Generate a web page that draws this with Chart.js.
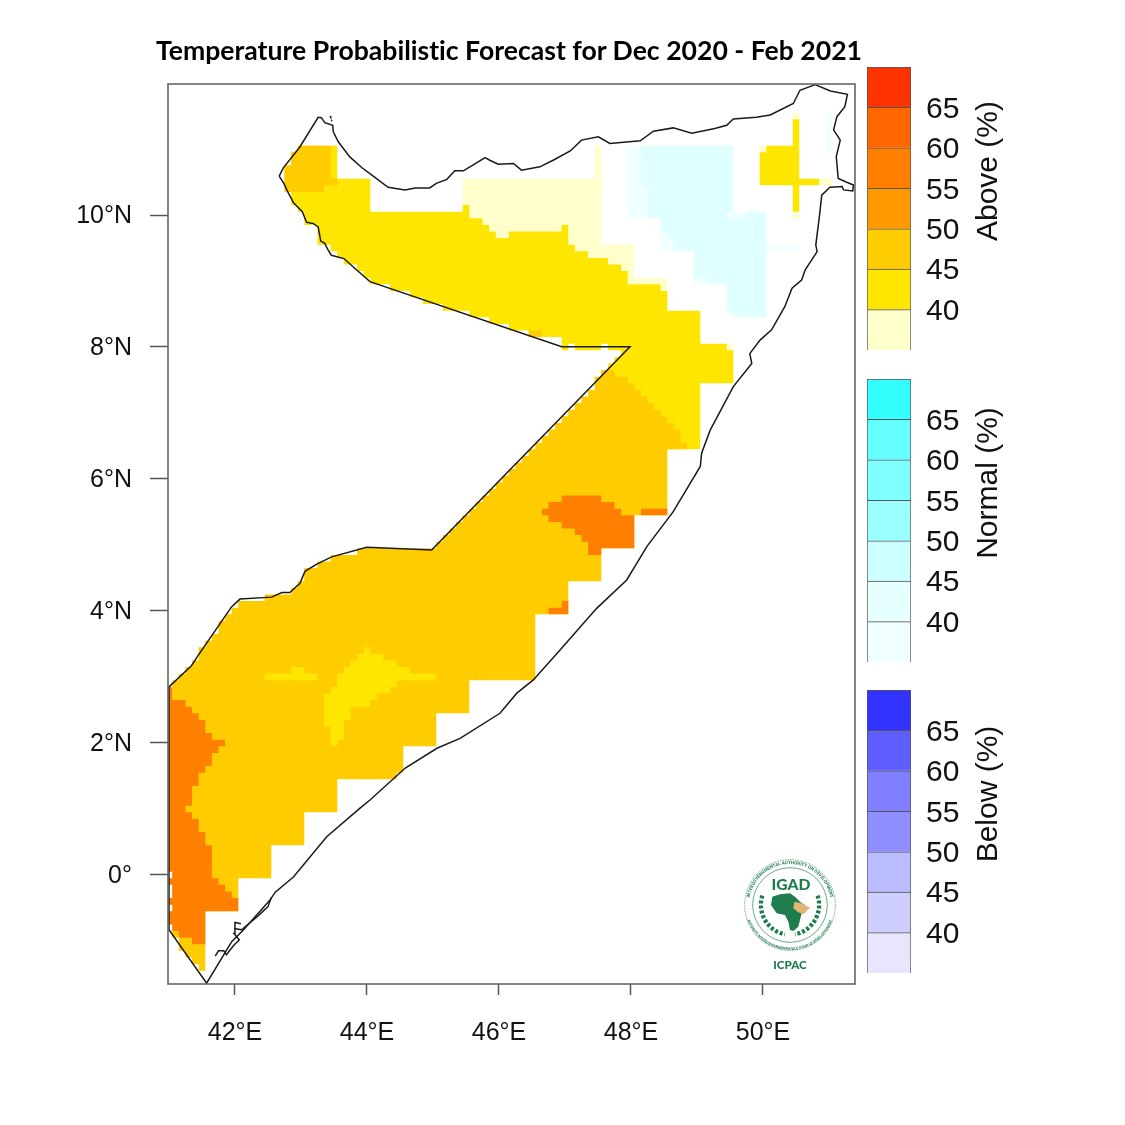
<!DOCTYPE html>
<html>
<head>
<meta charset="utf-8">
<script src="https://cdn.jsdelivr.net/npm/chart.js@4"></script>
<style>
  body { margin: 0; background: #fff; width: 1125px; height: 1125px; position: relative; overflow: hidden; }
  canvas { position: absolute; }
  #title { position: absolute; left: 155px; top: 34px; width: 708px; text-align: center; white-space: nowrap;
           font: 700 26.6px Lato, "Open Sans", sans-serif; font-variant-ligatures: none; color: #000; }
  #logo { position: absolute; left: 735px; top: 855px; }
</style>
</head>
<body>
<canvas id="map" width="1125" height="1125" style="left:0;top:0"></canvas>
<canvas id="barAbove" width="258" height="287" style="left:867px;top:65px"></canvas>
<canvas id="barNormal" width="258" height="287" style="left:867px;top:377px"></canvas>
<canvas id="barBelow" width="258" height="287" style="left:867px;top:688px"></canvas>
<div id="title">Temperature Probabilistic Forecast for Dec 2020 - Feb 2021</div>

<svg id="logo" width="110" height="125" viewBox="0 0 330 375">
  <defs>
    <path id="ringTop" d="M 42 150 A 123 123 0 0 1 288 150"/>
    <path id="ringBot" d="M 30 150 A 135 135 0 0 0 300 150"/>
  </defs>
  <circle cx="165" cy="150" r="136" fill="#fff" stroke="#1f7d4d" stroke-width="3" stroke-dasharray="2 3"/>
  <circle cx="165" cy="150" r="112" fill="#fff" stroke="#1f7d4d" stroke-width="2"/>
  <text font-family="Roboto" font-weight="700" font-size="13.5" fill="#1f7d4d"><textPath href="#ringTop" startOffset="50%" text-anchor="middle">INTERGOVERNMENTAL AUTHORITY ON DEVELOPMENT</textPath></text>
  <text font-family="Roboto" font-weight="700" font-size="11" fill="#1f7d4d"><textPath href="#ringBot" startOffset="50%" text-anchor="middle">AUTORITÉ INTERGOUVERNEMENTALE POUR LE DÉVELOPPEMENT</textPath></text>
  <text x="168" y="106" text-anchor="middle" font-family="Lato" font-weight="900" font-size="47" fill="#1f7d4d">IGAD</text>
  <path d="M 82 122 A 90 90 0 0 0 150 238" fill="none" stroke="#1f7d4d" stroke-width="13" stroke-dasharray="9 6"/>
  <path d="M 248 122 A 90 90 0 0 1 180 238" fill="none" stroke="#1f7d4d" stroke-width="13" stroke-dasharray="9 6"/>
  <polygon fill="#1f7d4d" points="112,125 135,118 165,115 180,125 195,140 210,150 200,175 195,195 190,215 175,228 165,225 160,200 150,180 125,175 108,150"/>
  <polygon fill="#e3b673" points="178,140 200,145 225,158 205,178 190,172 175,160"/>
  <text x="165" y="342" text-anchor="middle" font-family="Lato" font-weight="900" font-size="35" fill="#1f7d4d">ICPAC</text>
</svg>

<script>
// axis ticks
const lonTicks = [42, 44, 46, 48, 50]
const latTicks = [0, 2, 4, 6, 8, 10]
const barTicks = [40, 45, 50, 55, 60, 65]
const barEdges = [35, 40, 45, 50, 55, 60, 65, 70]

// colour bars, bottom to top
const aboveColors = ['#FFFFCC', '#FFE600', '#FFCC00', '#FF9900', '#FF8000', '#FF6600', '#FF3300']
const normalColors = ['#F0FFFF', '#E6FFFF', '#CCFFFF', '#99FFFF', '#80FFFF', '#66FFFF', '#33FFFF']
const belowColors = ['#E8E6FF', '#CFCFFF', '#BBBBFF', '#8F8FFF', '#7F7FFF', '#5F5FFF', '#3333FF']

// forecast areas, [lon, lat]
const normalLight = [[47.95,11.05],[49.55,11.05],[49.55,10.05],[50.05,10.05],[50.05,9.55],[50.55,9.55],[50.55,9.45],[50.05,9.45],[50.05,8.45],[49.45,8.45],[49.45,8.95],[48.95,8.95],[48.95,9.45],[48.45,9.45],[48.45,9.95],[47.95,9.95]]
const normalLightEast = [[50.95,11.55],[51.05,11.55],[51.05,10.95],[50.95,10.95]]
const normalDark = [[48.15,11.05],[49.55,11.05],[49.55,10.05],[49.45,10.05],[49.45,9.95],[49.75,9.95],[49.75,10.05],[50.05,10.05],[50.05,8.45],[49.55,8.45],[49.55,8.55],[49.45,8.55],[49.45,8.95],[49.15,8.95],[49.15,9.05],[48.95,9.05],[48.95,9.45],[48.65,9.45],[48.65,9.65],[48.55,9.65],[48.55,9.75],[48.45,9.75],[48.45,9.95],[48.25,9.95],[48.25,10.45],[48.15,10.45]]
const abovePale = [[45.45,10.55],[47.45,10.55],[47.45,11.05],[47.55,11.05],[47.55,9.55],[48.05,9.55],[48.05,9.05],[48.55,9.05],[48.55,8.85],[47.5,8.85],[46,9.5],[45.45,10.05]]
const palePatchA = [[49.45,8.05],[49.55,8.05],[49.55,7.95],[49.45,7.95]]
const palePatchB = [[50.45,11.55],[50.55,11.55],[50.55,11.45],[50.45,11.45]]
const palePatchC = [[50.45,10.05],[50.55,10.05],[50.55,9.95],[50.45,9.95]]
const palePatchD = [[50.85,10.55],[51.05,10.55],[51.05,10.45],[50.85,10.45]]
const palePatchE = [[49.95,11.05],[50.05,11.05],[50.05,10.95],[49.95,10.95]]
const yellowMain = [[42.95,11.05],[43.55,11.05],[43.55,10.55],[44.05,10.55],[44.05,10.05],[45.45,10.05],[45.45,10.15],[45.55,10.15],[45.55,9.95],[45.75,9.95],[45.75,9.85],[45.85,9.85],[45.85,9.75],[45.95,9.75],[45.95,9.65],[46.15,9.65],[46.15,9.75],[46.95,9.75],[46.95,9.85],[47.05,9.85],[47.05,9.55],[47.15,9.55],[47.15,9.45],[47.35,9.45],[47.35,9.35],[47.65,9.35],[47.65,9.25],[47.85,9.25],[47.85,9.15],[47.95,9.15],[47.95,8.95],[48.45,8.95],[48.45,8.85],[48.55,8.85],[48.55,8.55],[49.05,8.55],[49.05,8.05],[49.45,8.05],[49.45,7.95],[49.55,7.95],[49.55,7.45],[49.05,7.45],[49.05,6.45],[47.55,6.45],[47.55,7.65],[47.65,7.65],[47.65,7.75],[47.75,7.75],[47.75,7.85],[47.85,7.85],[47.85,7.95],[47.65,7.95],[47.65,8.05],[47.55,8.05],[47.55,7.95],[47.15,7.95],[47.15,8.05],[47.05,8.05],[47.05,7.95],[46.95,7.95],[46.95,8.15],[46.45,8.15],[46.45,8.25],[46.15,8.25],[46.15,8.35],[45.85,8.35],[45.85,8.45],[45.55,8.45],[45.55,8.55],[45.15,8.55],[45.15,8.65],[44.85,8.65],[44.85,8.75],[44.65,8.75],[44.65,8.85],[44.35,8.85],[44.35,8.95],[44.05,8.95],[44.05,9.05],[43.95,9.05],[43.95,9.15],[43.85,9.15],[43.85,9.25],[43.65,9.25],[43.65,9.35],[43.55,9.35],[43.55,9.45],[43.45,9.45],[43.45,9.55],[43.25,9.55],[43.25,9.85],[43.05,9.85],[43.05,10.05],[42.95,10.05],[42.95,10.15],[42.85,10.15],[42.85,10.35],[42.75,10.35],[42.75,10.75],[42.85,10.75],[42.85,10.95],[42.95,10.95]]
const yellowEast = [[50.05,11.05],[50.45,11.05],[50.45,11.45],[50.55,11.45],[50.55,10.55],[50.85,10.55],[50.85,10.45],[50.55,10.45],[50.55,10.05],[50.45,10.05],[50.45,10.45],[49.95,10.45],[49.95,10.95],[50.05,10.95]]
const orangeMain = [[41.05,2.85],[41.05,2.95],[41.15,2.95],[41.15,3.05],[41.25,3.05],[41.25,3.15],[41.35,3.15],[41.35,3.25],[41.45,3.25],[41.45,3.45],[41.55,3.45],[41.55,3.55],[41.65,3.55],[41.65,3.65],[41.75,3.65],[41.75,3.85],[41.85,3.85],[41.85,3.95],[41.95,3.95],[41.95,4.05],[42.05,4.05],[42.05,4.15],[42.45,4.15],[42.45,4.25],[42.85,4.25],[42.85,4.35],[42.95,4.35],[42.95,4.45],[43.05,4.45],[43.05,4.65],[43.25,4.65],[43.25,4.75],[43.45,4.75],[43.45,4.85],[43.85,4.85],[43.85,4.95],[45.05,4.95],[45.05,5.05],[45.15,5.05],[45.15,5.15],[45.25,5.15],[45.25,5.25],[45.35,5.25],[45.35,5.35],[45.45,5.35],[45.45,5.45],[45.55,5.45],[45.55,5.55],[45.65,5.55],[45.65,5.65],[45.75,5.65],[45.75,5.75],[45.85,5.75],[45.85,5.85],[45.95,5.85],[45.95,5.95],[46.05,5.95],[46.05,6.05],[46.15,6.05],[46.15,6.15],[46.25,6.15],[46.25,6.25],[46.35,6.25],[46.35,6.35],[46.45,6.35],[46.45,6.45],[46.55,6.45],[46.55,6.55],[46.65,6.55],[46.65,6.65],[46.75,6.65],[46.75,6.75],[46.85,6.75],[46.85,6.85],[46.95,6.85],[46.95,6.95],[47.05,6.95],[47.05,7.05],[47.15,7.05],[47.15,7.15],[47.25,7.15],[47.25,7.25],[47.35,7.25],[47.35,7.35],[47.45,7.35],[47.45,7.55],[47.55,7.55],[47.55,7.65],[47.75,7.65],[47.75,7.55],[47.95,7.55],[47.95,7.45],[48.05,7.45],[48.05,7.35],[48.15,7.35],[48.15,7.25],[48.25,7.25],[48.25,7.15],[48.35,7.15],[48.35,7.05],[48.45,7.05],[48.45,6.95],[48.55,6.95],[48.55,6.85],[48.65,6.85],[48.65,6.75],[48.75,6.75],[48.75,6.55],[48.85,6.55],[48.85,6.45],[48.55,6.45],[48.55,5.45],[48.05,5.45],[48.05,4.95],[47.55,4.95],[47.55,4.45],[47.05,4.45],[47.05,3.95],[46.55,3.95],[46.55,2.95],[45.55,2.95],[45.55,2.45],[45.05,2.45],[45.05,1.95],[44.55,1.95],[44.55,1.55],[44.45,1.55],[44.45,1.45],[43.55,1.45],[43.55,0.95],[43.05,0.95],[43.05,0.45],[42.55,0.45],[42.55,-0.05],[42.05,-0.05],[42.05,-0.55],[41.55,-0.55],[41.55,-1.45],[41.45,-1.45],[41.45,-1.35],[41.35,-1.35],[41.35,-1.25],[41.25,-1.25],[41.25,-1.15],[41.15,-1.15],[41.15,-0.95],[41.05,-0.95]]
const orangeNorthWest = [[42.95,11.05],[43.45,11.05],[43.45,10.55],[43.55,10.55],[43.55,10.45],[43.35,10.45],[43.35,10.35],[42.75,10.35],[42.75,10.75],[42.85,10.75],[42.85,10.95],[42.95,10.95]]
const orangeSmallA = [[46.45,8.25],[46.65,8.25],[46.65,8.15],[46.45,8.15]]
const yellowStrip = [[42.45,3.05],[42.85,3.05],[42.85,3.15],[43.05,3.15],[43.05,3.05],[43.25,3.05],[43.25,2.95],[42.45,2.95]]
const yellowPatch = [[43.95,3.45],[44.05,3.45],[44.05,3.35],[44.25,3.35],[44.25,3.25],[44.45,3.25],[44.45,3.15],[44.65,3.15],[44.65,3.05],[45.05,3.05],[45.05,2.95],[44.45,2.95],[44.45,2.85],[44.35,2.85],[44.35,2.75],[44.15,2.75],[44.15,2.65],[44.05,2.65],[44.05,2.55],[43.75,2.55],[43.75,2.35],[43.65,2.35],[43.65,2.05],[43.55,2.05],[43.55,1.95],[43.45,1.95],[43.45,2.25],[43.35,2.25],[43.35,2.75],[43.45,2.75],[43.45,2.85],[43.55,2.85],[43.55,3.05],[43.65,3.05],[43.65,3.15],[43.75,3.15],[43.75,3.25],[43.85,3.25],[43.85,3.35],[43.95,3.35]]
const darkWest = [[41,2.85],[41.05,2.85],[41.05,2.65],[41.25,2.65],[41.25,2.55],[41.35,2.55],[41.35,2.45],[41.45,2.45],[41.45,2.35],[41.55,2.35],[41.55,2.15],[41.65,2.15],[41.65,2.05],[41.85,2.05],[41.85,1.95],[41.75,1.95],[41.75,1.85],[41.65,1.85],[41.65,1.65],[41.55,1.65],[41.55,1.55],[41.45,1.55],[41.45,1.35],[41.35,1.35],[41.35,1.05],[41.25,1.05],[41.25,0.95],[41.35,0.95],[41.35,0.85],[41.45,0.85],[41.45,0.65],[41.55,0.65],[41.55,0.45],[41.65,0.45],[41.65,-0.05],[41.75,-0.05],[41.75,-0.15],[41.85,-0.15],[41.85,-0.25],[41.95,-0.25],[41.95,-0.35],[42.05,-0.35],[42.05,-0.55],[41.55,-0.55],[41.55,-1.05],[41.35,-1.05],[41.35,-0.95],[41.15,-0.95],[41.15,-0.85],[41.05,-0.85],[41.05,-0.75],[41,-0.75],[41,-0.55],[41.05,-0.55],[41.05,-0.45],[41,-0.45],[41,-0.35],[41.05,-0.35],[41.05,-0.15],[41,-0.15],[41,-0.05],[41.05,-0.05],[41.05,0.05],[41,0.05]]
const darkCentre = [[46.95,5.75],[47.55,5.75],[47.55,5.65],[47.75,5.65],[47.75,5.55],[47.85,5.55],[47.85,5.45],[48.05,5.45],[48.05,4.95],[47.55,4.95],[47.55,4.85],[47.35,4.85],[47.35,5.05],[47.25,5.05],[47.25,5.15],[47.15,5.15],[47.15,5.25],[46.95,5.25],[46.95,5.35],[46.75,5.35],[46.75,5.45],[46.65,5.45],[46.65,5.55],[46.75,5.55],[46.75,5.65],[46.95,5.65]]
const darkStrip = [[48.15,5.55],[48.55,5.55],[48.55,5.45],[48.15,5.45]]
const darkSmall = [[46.75,4.05],[46.95,4.05],[46.95,4.15],[47.05,4.15],[47.05,3.95],[46.75,3.95]]

// country outline
const coastline = [[42.67,10.59],[42.73,10.71],[42.985,11.035],[43.26,11.48],[43.31,11.475],[43.36,11.40],[43.48,11.36],[43.49,11.26],[43.565,11.11],[43.74,10.88],[43.92,10.72],[44.12,10.57],[44.32,10.42],[44.575,10.38],[44.73,10.41],[44.95,10.41],[45.05,10.48],[45.21,10.54],[45.33,10.67],[45.46,10.67],[45.61,10.76],[45.79,10.87],[45.86,10.83],[45.99,10.77],[46.22,10.78],[46.34,10.68],[46.62,10.73],[46.82,10.83],[47.08,10.97],[47.25,11.135],[47.505,11.185],[47.68,11.085],[48.14,11.125],[48.34,11.27],[48.64,11.32],[48.92,11.24],[49.27,11.31],[49.45,11.36],[49.55,11.455],[49.90,11.48],[50.11,11.515],[50.46,11.69],[50.56,11.89],[50.79,11.975],[51.02,11.88],[51.28,11.83],[51.24,11.64],[51.12,11.49],[51.07,11.29],[51.17,11.135],[51.11,10.88],[51.14,10.555],[51.26,10.50],[51.37,10.455],[51.36,10.365],[51.22,10.38],[51.20,10.43],[51.015,10.42],[50.89,10.30],[50.86,10.025],[50.80,9.545],[50.82,9.445],[50.64,9.17],[50.585,9.015],[50.44,8.89],[50.33,8.61],[50.13,8.26],[49.955,8.105],[49.80,7.90],[49.83,7.75],[49.55,7.40],[49.20,6.74],[49.07,6.39],[49.05,6.19],[48.64,5.505],[48.24,4.975],[47.935,4.47],[47.48,4.04],[46.925,3.41],[46.52,2.955],[46.27,2.755],[46.015,2.45],[45.41,2.07],[45.06,1.92],[44.58,1.62],[44.05,1.14],[43.89,1.01],[43.39,0.58],[42.885,-0.03],[42.61,-0.26],[42.53,-0.38],[42.13,-0.83],[41.95,-1.01],[41.57,-1.64],[41,-0.83],[41,2.85],[41.34,3.17],[41.445,3.33],[41.95,4.065],[42.075,4.18],[42.555,4.21],[42.71,4.28],[42.83,4.28],[42.985,4.42],[43.06,4.6],[43.24,4.71],[43.465,4.82],[43.995,4.965],[44.98,4.925],[47.985,8.005],[46.975,8.005],[46.95,8.005],[44.045,8.99],[43.84,9.17],[43.65,9.34],[43.46,9.39],[43.41,9.47],[43.36,9.57],[43.30,9.605],[43.26,9.82],[43.19,9.87],[43.085,9.89],[43.02,10.05],[42.89,10.18],[42.81,10.33],[42.74,10.48],[42.67,10.59]]
const islandsNorth = [[43.44,11.50],[43.45,11.48]]
const islandsNorthB = [[43.46,11.44],[43.47,11.42]]
const islandsSouthA = [[41.70,-1.23],[41.75,-1.15],[41.83,-1.15],[41.87,-1.21],[41.985,-1.06],[42.065,-0.985],[41.985,-0.885],[42.0,-0.72],[42.09,-0.74]]
const islandsSouthB = [[41.985,-0.81],[42.10,-0.83],[42.35,-0.62],[42.50,-0.48],[42.55,-0.34]]

// lowest layer first
const fillLayers = [
  [normalLight, '#F0FFFF'], [normalLightEast, '#F0FFFF'], [normalDark, '#E0FFFF'],
  [abovePale, '#FFFFCC'], [palePatchA, '#FFFFCC'], [palePatchB, '#FFFFCC'], [palePatchC, '#FFFFCC'], [palePatchD, '#FFFFCC'], [palePatchE, '#FFFFCC'],
  [yellowMain, '#FFE600'], [yellowEast, '#FFE600'],
  [orangeMain, '#FFCC00'], [orangeNorthWest, '#FFCC00'], [orangeSmallA, '#FFCC00'],
  [yellowStrip, '#FFE600'], [yellowPatch, '#FFE600'],
  [darkWest, '#FF8000'], [darkCentre, '#FF8000'], [darkStrip, '#FF8000'], [darkSmall, '#FF8000']
]
const outlines = [coastline, islandsNorth, islandsNorthB, islandsSouthA, islandsSouthB]

function toPoints(pairs){
  return pairs.map(p => ({x: p[0], y: p[1]}))
}

// chart.js draws the first dataset on top, so outlines go first and fills are reversed
const mapDatasets = []
outlines.forEach(o => {
  mapDatasets.push({data: toPoints(o), borderColor: '#1a1a1a', borderWidth: 1.5, pointRadius: 0, fill: false, tension: 0})
})
fillLayers.slice().reverse().forEach(l => {
  mapDatasets.push({data: toPoints(l[0]), backgroundColor: l[1], borderWidth: 0, borderColor: 'transparent', pointRadius: 0, fill: 'shape', tension: 0})
})

const frameBox = {
  id: 'frameBox',
  afterDraw(chart){
    const a = chart.chartArea
    const ctx = chart.ctx
    ctx.save()
    ctx.strokeStyle = '#666'
    ctx.lineWidth = 1.6
    ctx.strokeRect(a.left, a.top, a.right - a.left, a.bottom - a.top)
    ctx.restore()
  }
}

new Chart(document.getElementById('map').getContext('2d'), {
  type: 'line',
  data: {datasets: mapDatasets},
  plugins: [frameBox],
  options: {
    responsive: false,
    animation: false,
    layout: {padding: {top: 84, right: 270, left: 0, bottom: 0}},
    plugins: {legend: {display: false}, tooltip: {enabled: false}},
    scales: {
      x: {
        type: 'linear', min: 40.985, max: 51.394,
        afterBuildTicks: s => { s.ticks = lonTicks.map(v => ({value: v})) },
        afterFit: s => { s.height = 141 },
        grid: {drawOnChartArea: false, drawTicks: true, tickLength: 11, color: '#555', tickWidth: 1.5},
        border: {display: false},
        ticks: {color: '#111', padding: 23, maxRotation: 0, font: {family: 'Liberation Sans', size: 25}, callback: v => v + '°E'}
      },
      y: {
        type: 'linear', min: -1.652, max: 11.985,
        afterBuildTicks: s => { s.ticks = latTicks.map(v => ({value: v})) },
        afterFit: s => { s.width = 168 },
        grid: {drawOnChartArea: false, drawTicks: true, tickLength: 18, color: '#555', tickWidth: 1.5},
        border: {display: false},
        ticks: {color: '#111', padding: 18, labelOffset: 1.5, font: {family: 'Liberation Sans', size: 25}, callback: v => v === 0 ? '0°' : v + '°N'}
      }
    }
  }
})

function makeColorBar(canvasId, label, colors){
  const sideTitle = {
    id: 'sideTitle',
    afterDraw(chart){
      const ctx = chart.ctx
      ctx.save()
      ctx.translate(122, 106)
      ctx.rotate(-Math.PI / 2)
      ctx.font = '30px "Liberation Sans"'
      ctx.fillStyle = '#111'
      ctx.textAlign = 'center'
      ctx.textBaseline = 'middle'
      ctx.fillText(label, 0, 0)
      ctx.restore()
    }
  }
  new Chart(document.getElementById(canvasId).getContext('2d'), {
    type: 'bar',
    data: {
      labels: [label],
      datasets: colors.map((c, i) => ({
        data: [[barEdges[i], barEdges[i + 1]]],
        backgroundColor: c,
        borderColor: '#555',
        borderWidth: 1,
        barPercentage: 1,
        categoryPercentage: 1
      }))
    },
    plugins: [sideTitle],
    options: {
      responsive: false,
      animation: false,
      layout: {padding: {top: 2, bottom: 2, left: 0, right: 0}},
      plugins: {legend: {display: false}, tooltip: {enabled: false}},
      scales: {
        x: {display: false, stacked: true},
        y: {
          position: 'right', min: 35, max: 70, stacked: false,
          afterBuildTicks: s => { s.ticks = barTicks.map(v => ({value: v})) },
          // the labels never reach the bar ends, so no room is needed for them
          afterFit: s => { s.width = 214; s.paddingTop = 0; s.paddingBottom = 0 },
          grid: {display: false},
          border: {display: false},
          ticks: {color: '#111', padding: 7, labelOffset: 2, font: {family: 'Liberation Sans', size: 30}}
        }
      }
    }
  })
}

makeColorBar('barAbove', 'Above (%)', aboveColors)
makeColorBar('barNormal', 'Normal (%)', normalColors)
makeColorBar('barBelow', 'Below (%)', belowColors)
</script>
</body>
</html>
